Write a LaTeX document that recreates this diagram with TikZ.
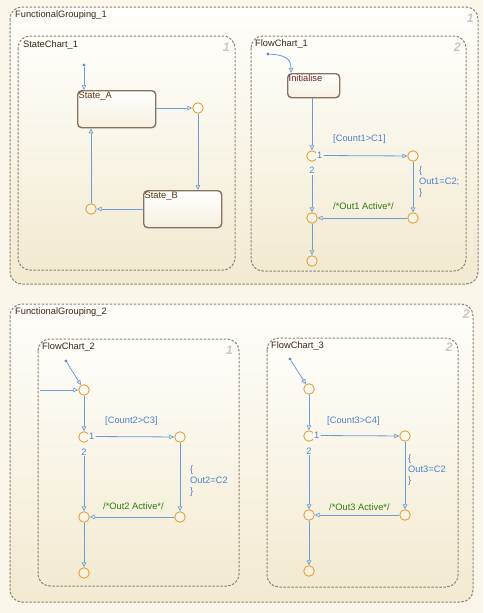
\documentclass[tikz,border=0pt]{standalone}
\usepackage{fontspec}
\setmainfont{Liberation Sans}
\usetikzlibrary{arrows.meta,calc}

\definecolor{pagebg}{HTML}{FAF6EA}
\definecolor{boxtop}{HTML}{FFFEFB}
\definecolor{boxbot}{HTML}{F2EAD1}
\definecolor{dashcol}{HTML}{8E8476}
\definecolor{trcol}{HTML}{6A9CD6}
\definecolor{trtext}{HTML}{4A82CC}
\definecolor{juncol}{HTML}{E2A23C}
\definecolor{cmtcol}{HTML}{2A7E10}
\definecolor{titlecol}{HTML}{3A2616}
\definecolor{statecol}{HTML}{857262}
\definecolor{idxcol}{HTML}{CCC8C0}
\definecolor{initcol}{HTML}{6E1C1C}

\tikzset{
  groupbox/.style={draw=dashcol, line width=1pt, dash pattern=on 2.5pt off 1.5pt,
    rounded corners=12pt, top color=boxtop, bottom color=boxbot},
  chartbox/.style={draw=dashcol, line width=1pt, dash pattern=on 2.5pt off 1.5pt,
    rounded corners=12pt, top color=boxtop, bottom color=boxbot},
  title/.style={anchor=north west, inner sep=0pt, text=titlecol, font=\fontsize{9.3}{10}\selectfont},
  idx/.style={anchor=north east, inner sep=0pt, text=idxcol, font=\fontsize{12.5}{13}\selectfont\bfseries\itshape},
  statebox/.style={draw=statecol, line width=1.4pt, rounded corners=4pt,
    top color=white, bottom color=boxbot!70!white, inner sep=0pt, anchor=north west},
  statelabel/.style={anchor=north west, inner sep=1.5pt, text=titlecol!70!orange!80!black,
    font=\fontsize{9.3}{10}\selectfont},
  junc/.style={circle, draw=juncol, line width=0.9pt, fill=white, fill opacity=0.25,
    minimum size=10.5pt, inner sep=0pt},
  dflt/.style={circle, fill=trcol!90!black, minimum size=3.4pt, inner sep=0pt},
  tr/.style={draw=trcol, line width=0.8pt,
    -{Triangle[open, length=5pt, width=4.5pt, line width=0.7pt]}},
  trl/.style={text=trtext, inner sep=0pt, font=\fontsize{9.3}{11}\selectfont},
  cmt/.style={text=cmtcol, inner sep=0pt, font=\fontsize{9.3}{11}\selectfont},
  num/.style={text=trtext, fill=boxbot!40!white, inner sep=1pt, font=\fontsize{9.3}{10}\selectfont},
}

\begin{document}
\begin{tikzpicture}[x=1pt, y=-1pt]
  \useasboundingbox (0,0) rectangle (483,613);
  \fill[pagebg] (0,0) rectangle (483,613);

  % ---------------- FunctionalGrouping_1 ----------------
  \path[groupbox] (10,7) rectangle (478,284);
  \node[title] (g1t) at (15,11) {FunctionalGrouping\_1};
  \node[idx] (g1i) at (474,14) {1};

  % StateChart_1
  \path[chartbox] (18,36) rectangle (235,270);
  \node[title] (sct) at (23,41) {StateChart\_1};
  \node[idx] (sci) at (230,43) {1};

  \node[statebox, minimum width=78pt, minimum height=37pt] (sa) at (77,90) {};
  \node[statelabel] (sal) at (sa.north west) {State\_A};
  \node[statebox, minimum width=78pt, minimum height=37pt] (sb) at (143,190) {};
  \node[statelabel] (sbl) at (sb.north west) {State\_B};

  \node[dflt] (sd) at (84,65) {};
  \node[junc] (c1) at (198,108) {};
  \node[junc] (c2) at (91,209) {};

  \draw[tr] (sd) -- (sd |- sa.north);
  \draw[tr] (sa.east |- c1) -- (c1);
  \draw[tr] (c1) -- (c1 |- sb.north);
  \draw[tr] (sb.west |- c2) -- (c2);
  \draw[tr] (c2) -- (c2 |- sa.south);

  % FlowChart_1
  \path[chartbox] (251,36) rectangle (466,271);
  \node[title] (f1t) at (255,40) {FlowChart\_1};
  \node[idx] (f1i) at (461,43) {2};

  \node[statebox, minimum width=52pt, minimum height=24pt] (init) at (287,73) {};
  \node[statelabel, text=initcol] (initl) at (init.north west) {Initialise};
  \node[dflt] (fd1) at (268,54) {};
  \coordinate (init-in) at ($(init.north west)+(4,0)$);
  \draw[tr] (fd1) .. controls (284,55) and (291,58) .. (init-in);

  \node[junc] (a1) at (312,156) {};
  \node[junc] (a2) at (413,156) {};
  \node[junc] (a3) at (413,218) {};
  \node[junc] (a4) at (312,218) {};
  \node[junc] (a5) at (312,261) {};
  \node[num, anchor=west] (a1n1) at (316,155.5) {1};
  \node[num] (a1n2) at (312,170.5) {2};

  \draw[tr] (init.south -| a1) -- (a1);
  \draw[tr] (a1n1) -- (a2);
  \draw[tr] (a2) -- (a3);
  \draw[tr] (a3) -- (a4);
  \draw[tr] (a1n2) -- (a4);
  \draw[tr] (a4) -- (a5);
  \node[trl, anchor=west] (a12l) at (333,139) {[Count1>C1]};
  \node[trl, anchor=north west, align=left] (a23l) at (419,167) {\{\\Out1=C2;\\\}};
  \node[cmt, anchor=west] (a34l) at (333,206) {/*Out1 Active*/};

  % ---------------- FunctionalGrouping_2 ----------------
  \path[groupbox] (10,304) rectangle (473,602);
  \node[title] (g2t) at (15,308) {FunctionalGrouping\_2};
  \node[idx] (g2i) at (470,310) {2};

  % FlowChart_2
  \path[chartbox] (38,339) rectangle (239,586);
  \node[title] (f2t) at (42,343) {FlowChart\_2};
  \node[idx] (f2i) at (233,346) {1};

  \node[dflt] (fd2) at (66,361) {};
  \coordinate (f2in) at (40,390);
  \node[junc] (b0) at (84,390) {};
  \node[junc] (b1) at (84,437) {};
  \node[junc] (b2) at (180,437) {};
  \node[junc] (b3) at (180,517) {};
  \node[junc] (b4) at (84,517) {};
  \node[junc] (b5) at (84,573) {};
  \node[num, anchor=west] (b1n1) at (88,436.5) {1};
  \node[num] (b1n2) at (84,452) {2};

  \draw[tr] (fd2) -- (b0);
  \draw[tr] (f2in) -- (b0);
  \draw[tr] (b0) -- (b1);
  \draw[tr] (b1n1) -- (b2);
  \draw[tr] (b2) -- (b3);
  \draw[tr] (b3) -- (b4);
  \draw[tr] (b1n2) -- (b4);
  \draw[tr] (b4) -- (b5);
  \node[trl, anchor=west] (b12l) at (105,421) {[Count2>C3]};
  \node[trl, anchor=north west, align=left] (b23l) at (190,466) {\{\\Out2=C2\\\}};
  \node[cmt, anchor=west] (b34l) at (103,506) {/*Out2 Active*/};

  % FlowChart_3
  \path[chartbox] (267,338) rectangle (458,587);
  \node[title] (f3t) at (271,342) {FlowChart\_3};
  \node[idx] (f3i) at (453,343) {2};

  \node[dflt] (fd3) at (290,359) {};
  \node[junc] (e0) at (309,389) {};
  \node[junc] (e1) at (309,436) {};
  \node[junc] (e2) at (405,436) {};
  \node[junc] (e3) at (405,515) {};
  \node[junc] (e4) at (309,515) {};
  \node[junc] (e5) at (309,571) {};
  \node[num, anchor=west] (e1n1) at (313,435.5) {1};
  \node[num] (e1n2) at (309,451) {2};

  \draw[tr] (fd3) -- (e0);
  \draw[tr] (e0) -- (e1);
  \draw[tr] (e1n1) -- (e2);
  \draw[tr] (e2) -- (e3);
  \draw[tr] (e3) -- (e4);
  \draw[tr] (e1n2) -- (e4);
  \draw[tr] (e4) -- (e5);
  \node[trl, anchor=west] (e12l) at (327,421) {[Count3>C4]};
  \node[trl, anchor=north west, align=left] (e23l) at (408,455) {\{\\Out3=C2\\\}};
  \node[cmt, anchor=west] (e34l) at (329,507) {/*Out3 Active*/};
\end{tikzpicture}
\end{document}
